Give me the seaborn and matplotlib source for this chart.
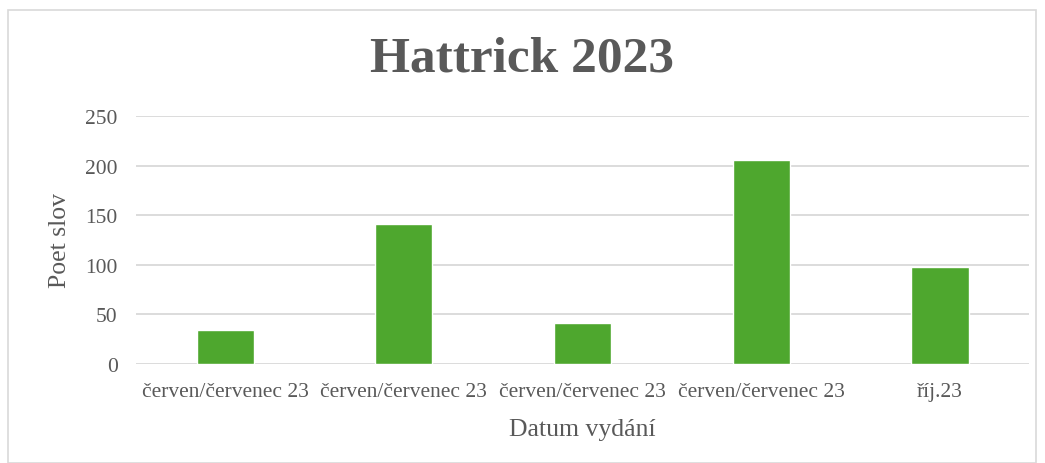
import numpy as np
import pandas as pd
import matplotlib
matplotlib.use("Agg")
import matplotlib.pyplot as plt
import seaborn as sns
from matplotlib.patches import Rectangle

# ---------------- DATA ----------------
dates = ["červen/červenec 23", "červen/červenec 23", "červen/červenec 23",
         "červen/červenec 23", "říj.23"]
words = [34, 141, 41, 206, 98]
y_ticks = [0, 50, 100, 150, 200, 250]

# ---------------- SETTINGS ----------------
sns.set_theme(style="white")
plt.rcParams["font.family"] = ["Liberation Serif", "DejaVu Serif"]

text_color = "#595959"
bar_color = "#4EA72E"
grid_color = "#D9D9D9"

# keys stay unique so seaborn keeps all five bars apart
df = pd.DataFrame({"key": [f"k{i}" for i in range(len(dates))], "words": words})

fig = plt.figure(figsize=(10.45, 4.64), dpi=100)
ax = fig.add_axes([0.130, 0.2134, 0.855, 0.5346])

sns.barplot(data=df, x="key", y="words", color=bar_color, width=0.32,
            saturation=1, ax=ax, zorder=3)

ax.set_ylim(0, 250)
ax.set_yticks(y_ticks)
ax.set_xticks(range(len(dates)))
ax.set_xticklabels(dates)
ax.yaxis.grid(True, color=grid_color, linewidth=1.3, zorder=0)
ax.set_axisbelow(True)
for s in ax.spines.values():
    s.set_visible(False)
ax.tick_params(axis="both", length=0, labelsize=15.5, colors=text_color)
ax.tick_params(axis="x", pad=13)
ax.tick_params(axis="y", pad=13)

ax.set_xlabel("Datum vydání", fontsize=18.5, color=text_color, labelpad=12)
ax.set_ylabel("Poet slov", fontsize=18.5, color=text_color, labelpad=10)

fig.text(0.5, 0.872, "Hattrick 2023", ha="center", va="center",
         fontsize=37, fontweight="bold", color=text_color)

# light frame round the chart area
fig.patches.append(Rectangle((0.008, 0.0), 0.983, 0.976, transform=fig.transFigure,
                             fill=False, edgecolor="#D9D9D9", linewidth=1.2))

fig.savefig("out.png", dpi=100)
plt.close(fig)
